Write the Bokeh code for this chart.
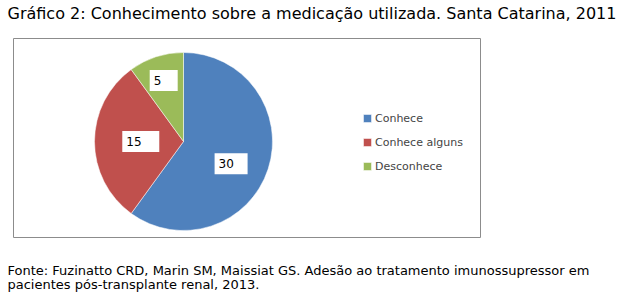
import math
from bokeh.plotting import figure
from bokeh.models import Range1d, Legend, LegendItem, ColumnDataSource
from bokeh.core.properties import value
from bokeh.embed import file_html
from bokeh.resources import INLINE

# ---- data ----
categories = ["Conhece", "Conhece alguns", "Desconhece"]
counts = [30, 15, 5]
colors = ["#4F81BD", "#C0504D", "#9BBB59"]
title_text = "Gráfico 2: Conhecimento sobre a medicação utilizada. Santa Catarina, 2011"
footer_lines = [
    "Fonte: Fuzinatto CRD, Marin SM, Maissiat GS. Adesão ao tratamento imunossupressor em",
    "pacientes pós-transplante renal, 2013.",
]

# ---- layout ----
W, H = 630, 297
FONT = "DejaVu Sans"
def Y(px):
    return H - px

cx, cy, R = 183, Y(141), 89
label_dist = [0.59, 0.48, 0.72]
label_shift = [math.radians(-7), 0, 0]

p = figure(width=W, height=H, output_backend="svg", toolbar_location=None,
           x_range=Range1d(0, W), y_range=Range1d(0, H), min_border=0)
p.axis.visible = False
p.grid.visible = False
p.outline_line_color = None
p.background_fill_color = "white"
p.border_fill_color = "white"

# chart frame
p.quad(left=[13], right=[480], bottom=[Y(237)], top=[Y(38)],
       fill_color="white", line_color="#8c8c8c", line_width=1)

# wedges
total = sum(counts)
starts, ends, mids = [], [], []
a = math.pi / 2
for c in counts:
    span = 2 * math.pi * c / total
    starts.append(a)
    ends.append(a - span)
    mids.append(a - span / 2)
    a -= span

renderers = []
for i, cat in enumerate(categories):
    r = p.wedge(x=cx, y=cy, radius=R, start_angle=starts[i], end_angle=ends[i],
                direction="clock", fill_color=colors[i], line_color="white", line_width=0.5)
    renderers.append(r)

# value labels
ang = [mids[i] + label_shift[i] for i in range(3)]
lx = [cx + label_dist[i] * R * math.cos(ang[i]) for i in range(3)]
ly = [cy + label_dist[i] * R * math.sin(ang[i]) for i in range(3)]
bw = [33, 37, 28]
src = ColumnDataSource(dict(x=lx, y=ly, w=bw, t=[str(c) for c in counts],
                            tx=[lx[i] - bw[i] / 2 + 4 for i in range(3)]))
p.rect(x="x", y="y", width="w", height=21, source=src, fill_color="white", line_color=None)
p.text(x="tx", y="y", text="t", source=src, text_font=value(FONT), text_font_size="12px",
       text_baseline="middle", text_align="left", text_color="black")

# legend
legend = Legend(items=[LegendItem(label=categories[i], renderers=[renderers[i]]) for i in range(3)],
                location=(362, 121), orientation="vertical",
                glyph_width=10, glyph_height=10, label_height=20, label_standoff=3,
                spacing=4, padding=0, margin=0,
                label_text_font=FONT, label_text_font_size="11px",
                border_line_color=None, background_fill_alpha=0)
p.add_layout(legend, "center")

# title and footer
p.text(x=[7], y=[Y(13)], text=[title_text], text_font=value(FONT), text_font_size="16px",
       text_baseline="middle", text_align="left", text_color="black")
p.text(x=[7, 7], y=[Y(270), Y(284)], text=footer_lines, text_font=value(FONT),
       text_font_size="13px", text_baseline="middle", text_align="left", text_color="black")

open("out.html", "w").write(file_html(p, INLINE))
